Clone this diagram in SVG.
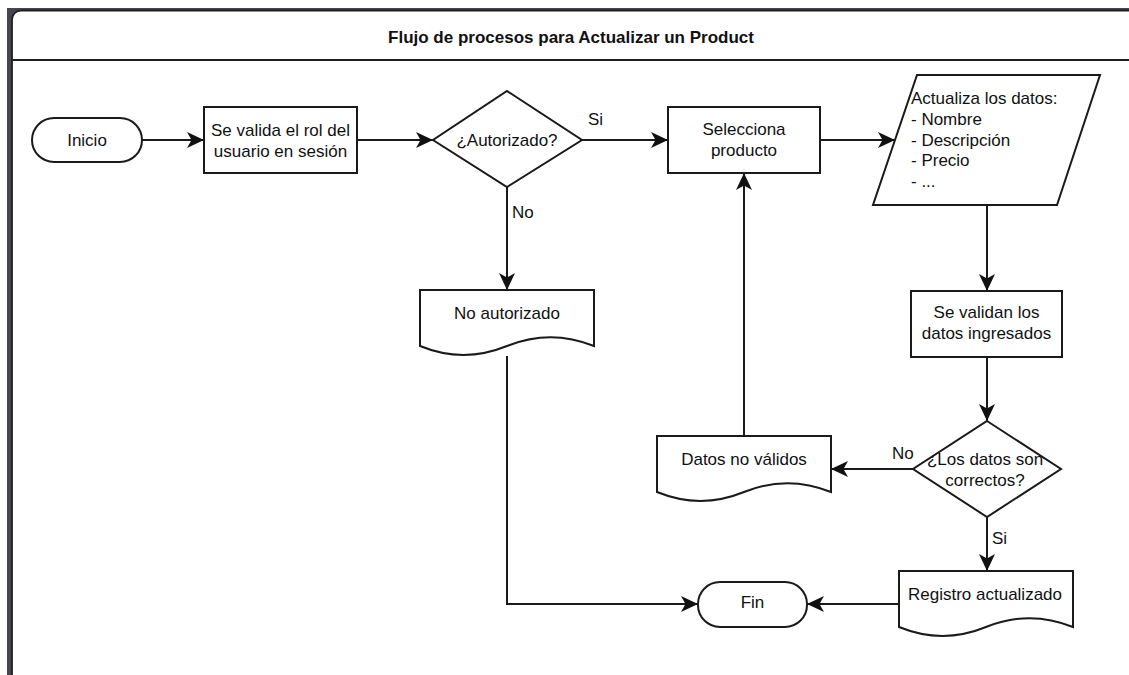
<svg xmlns="http://www.w3.org/2000/svg" width="1129" height="675" viewBox="0 0 1129 675">
  <defs>
    <style>
      .shape { fill: #ffffff; stroke: #1a1a1a; stroke-width: 2; }
      .edge { fill: none; stroke: #1a1a1a; stroke-width: 2; }
      .lbl { font-family: "Liberation Sans", Arial, sans-serif; font-size: 17px; fill: #111111; }
      .c { text-anchor: middle; }
      .title { font-family: "Liberation Sans", Arial, sans-serif; font-size: 17px; font-weight: bold; fill: #111111; text-anchor: middle; }
    </style>
    <marker id="arrow" markerUnits="userSpaceOnUse" markerWidth="18" markerHeight="18" viewBox="0 0 18 18" refX="17" refY="9" orient="auto">
      <path d="M0,1 L17,9 L0,17 L4.5,9 Z" fill="#111111"/>
    </marker>
    <!-- document shape with wavy bottom, 174 x 66 -->
    <path id="doc" d="M0,0 H174 V56 Q130.5,38.3 87,56 Q43.5,73.8 0,56 Z"/>
  </defs>

  <rect width="1129" height="675" fill="#ffffff"/>

  <!-- outer frame -->
  <rect x="7" y="8" width="1140" height="700" fill="#46464e"/>
  <rect x="12" y="10.5" width="1140" height="700" rx="9" fill="#ffffff" stroke="#1f1f1f" stroke-width="1.8"/>
  <line x1="12" y1="60" x2="1129" y2="60" stroke="#1f1f1f" stroke-width="2"/>
  <text class="title" x="571" y="43">Flujo de procesos para Actualizar un Product</text>

  <!-- connectors -->
  <g id="connectors">
    <path class="edge" d="M142,140 H204" marker-end="url(#arrow)"/>
    <path class="edge" d="M357,140 H433" marker-end="url(#arrow)"/>
    <path class="edge" d="M582,140 H668" marker-end="url(#arrow)"/>
    <path class="edge" d="M820,140 H895" marker-end="url(#arrow)"/>
    <path class="edge" d="M987,205 V291" marker-end="url(#arrow)"/>
    <path class="edge" d="M987,357 V421" marker-end="url(#arrow)"/>
    <path class="edge" d="M913,469 H831" marker-end="url(#arrow)"/>
    <path class="edge" d="M744,436 V173" marker-end="url(#arrow)"/>
    <path class="edge" d="M987,517 V571" marker-end="url(#arrow)"/>
    <path class="edge" d="M899,604 H807" marker-end="url(#arrow)"/>
    <path class="edge" d="M507,187 V290" marker-end="url(#arrow)"/>
    <path class="edge" d="M507,356 V604 H698" marker-end="url(#arrow)"/>
    <text class="lbl" x="588" y="125">Si</text>
    <text class="lbl" x="512" y="218">No</text>
    <text class="lbl" x="892" y="459">No</text>
    <text class="lbl" x="992" y="544">Si</text>
  </g>

  <g id="inicio">
    <rect class="shape" x="32" y="118" width="110" height="44" rx="22"/>
    <text class="lbl c" x="87" y="146">Inicio</text>
  </g>

  <g id="validar-rol">
    <rect class="shape" x="204" y="107" width="153" height="66"/>
    <text class="lbl c" x="280.5" y="136">Se valida el rol del</text>
    <text class="lbl c" x="280.5" y="157">usuario en sesión</text>
  </g>

  <g id="autorizado">
    <polygon class="shape" points="507,91 582,140 507,187 433,140"/>
    <text class="lbl c" x="507" y="146">¿Autorizado?</text>
  </g>

  <g id="selecciona">
    <rect class="shape" x="668" y="107" width="152" height="66"/>
    <text class="lbl c" x="744" y="135">Selecciona</text>
    <text class="lbl c" x="744" y="156">producto</text>
  </g>

  <g id="actualiza">
    <polygon class="shape" points="917,75 1100,75 1057,205 873,205"/>
    <text class="lbl" x="911" y="104">Actualiza los datos:</text>
    <text class="lbl" x="911" y="125">- Nombre</text>
    <text class="lbl" x="911" y="146">- Descripción</text>
    <text class="lbl" x="911" y="166">- Precio</text>
    <text class="lbl" x="911" y="187">- ...</text>
  </g>

  <g id="no-autorizado">
    <use href="#doc" class="shape" x="420" y="290"/>
    <text class="lbl c" x="507" y="319">No autorizado</text>
  </g>

  <g id="validan">
    <rect class="shape" x="911" y="291" width="151" height="66"/>
    <text class="lbl c" x="986.5" y="318">Se validan los</text>
    <text class="lbl c" x="986.5" y="339">datos ingresados</text>
  </g>

  <g id="datos-correctos">
    <polygon class="shape" points="987,421 1061,469 987,517 913,469"/>
    <text class="lbl c" x="985" y="465">¿Los datos son</text>
    <text class="lbl c" x="985" y="486">correctos?</text>
  </g>

  <g id="datos-no-validos">
    <use href="#doc" class="shape" x="657" y="436"/>
    <text class="lbl c" x="744" y="465">Datos no válidos</text>
  </g>

  <g id="registro">
    <use href="#doc" class="shape" x="899" y="571"/>
    <text class="lbl c" x="985" y="600">Registro actualizado</text>
  </g>

  <g id="fin">
    <rect class="shape" x="698" y="582" width="109" height="45" rx="22"/>
    <text class="lbl c" x="752.5" y="608">Fin</text>
  </g>
</svg>
